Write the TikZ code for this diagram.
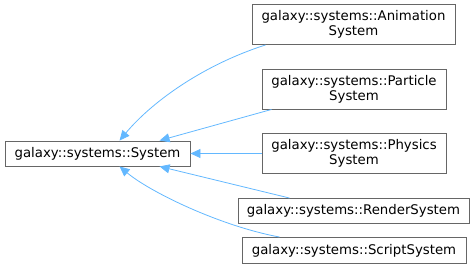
\documentclass[tikz,border=0pt]{standalone}
\usepackage{fontspec}
\setmainfont{DejaVu Sans}
\usetikzlibrary{arrows.meta}
\definecolor{edgeblue}{HTML}{63B8FF}
\definecolor{boxgray}{HTML}{666666}
\begin{document}
\begin{tikzpicture}[
  x=1pt,y=-1pt,
  cls/.style={draw=boxgray,line width=0.9pt,fill=white,inner sep=0pt,
    font=\fontsize{13.3}{15}\selectfont,align=center},
  inh/.style={draw=edgeblue,line width=0.8pt,
    {Triangle[length=10pt,width=9pt,fill=edgeblue]}-}]
  \useasboundingbox (0,0) rectangle (475,278);

  % base class on the left
  \node[cls,minimum width=185pt,minimum height=25pt] (sys) at (97.5,153.5)
    {galaxy::systems::System};

  % derived classes on the right
  \node[cls,minimum width=203pt,minimum height=40pt] (anim) at (353.5,24.5)
    {galaxy::systems::Animation\\System};
  \node[cls,minimum width=184pt,minimum height=40pt] (part) at (354,89)
    {galaxy::systems::Particle\\System};
  \node[cls,minimum width=184pt,minimum height=40pt] (phys) at (354,153.5)
    {galaxy::systems::Physics\\System};
  \node[cls,minimum width=231pt,minimum height=25pt] (rend) at (353.5,211)
    {galaxy::systems::RenderSystem};
  \node[cls,minimum width=224pt,minimum height=26pt] (scri) at (354,250.5)
    {galaxy::systems::ScriptSystem};

  % inheritance edges
  \draw[inh] ([xshift=115pt]sys.north west) .. controls (150,104) and (200,66)
    .. ([xshift=14pt]anim.south west);
  \draw[inh] ([xshift=155pt]sys.north west) -- ([xshift=10pt]part.south west);
  \draw[inh] (sys.east) -- (phys.west);
  \draw[inh] ([xshift=155pt]sys.south west) -- ([xshift=52pt]rend.north west);
  \draw[inh] ([xshift=115pt]sys.south west) .. controls (150,192) and (220,226)
    .. ([xshift=38pt]scri.north west);
\end{tikzpicture}
\end{document}
